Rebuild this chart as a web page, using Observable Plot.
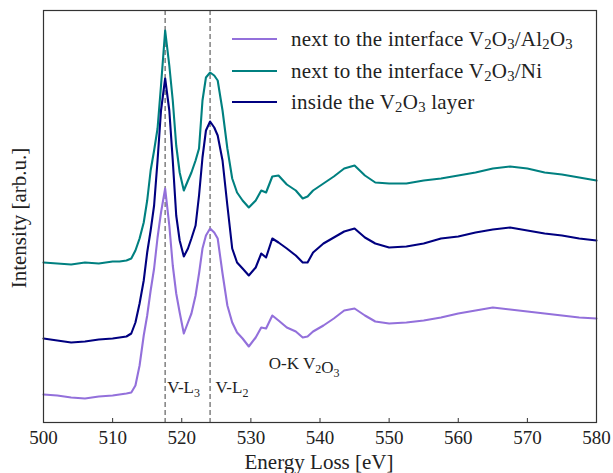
<!DOCTYPE html>
<html><head><meta charset="utf-8">
<script src="https://cdn.jsdelivr.net/npm/d3@7"></script>
<script src="https://cdn.jsdelivr.net/npm/@observablehq/plot@0.6"></script>
<style>
body{margin:0;background:#fff;}
#wrap{position:relative;width:613px;height:473px;font-family:"Liberation Serif",serif;color:#222;}
.t{position:absolute;white-space:nowrap;line-height:1;}
.legline{position:absolute;height:2px;width:45px;left:232px;}
.legtxt{position:absolute;left:291px;font-size:21px;letter-spacing:0.25px;white-space:nowrap;line-height:1;transform:translateY(-50%);}
sub{font-size:0.7em;vertical-align:-0.25em;line-height:0;}
</style></head><body><div id="wrap"></div>
<script>
// Energy loss (eV)
const energy = [500,502,504,506,508,510,511,512,512.7,513.3,513.9,514.5,515.0,515.5,516.0,516.5,517.0,517.6,518.2,518.7,519.2,519.7,520.3,520.9,521.4,522.0,522.5,523.0,523.5,524.1,524.7,525.2,525.9,526.6,527.3,528.0,528.8,529.7,530.7,531.5,532.2,533.1,534.0,535.2,536.5,537.5,538.2,539.0,540.5,542.0,543.5,545.0,546.5,548.0,550.0,552.5,555.0,557.5,560.0,562.5,565.0,567.5,570.0,572.5,575.0,577.5,580.0];
// Intensity (arb. u., curves offset as in the figure)
const nextToAl2O3 = [28,27,25,24,26,27,28,29,30,37,57,87,107,132,154,185,210,234,197,157,129,110,89,100,109,127,149,174,187,194,190,184,149,117,100,90,84,76,85,95,94,107,102,95,91,85,86,91,97,104,112,114,107,101,99,100,102,105,109,112,115,113,111,109,107,105,104];
const nextToNi = [160,159,158,160,159,161,161,162,164,172,184,200,222,252,272,294,337,392,357,322,277,250,232,242,250,262,274,322,345,350,347,342,312,274,244,230,222,215,222,232,230,246,247,238,232,224,226,232,239,246,254,257,247,240,239,239,242,244,247,250,254,256,254,250,248,245,242];
const insideLayer = [84,82,80,81,83,84,85,86,89,100,119,142,170,192,217,262,312,344,312,262,207,182,166,174,184,197,227,265,292,301,295,287,262,217,174,160,154,147,155,169,165,184,180,174,167,160,160,170,179,185,191,194,185,179,175,176,179,184,186,190,193,195,192,189,187,184,182];

const seriesNames = ["next to the interface V2O3/Al2O3","next to the interface V2O3/Ni","inside the V2O3 layer"];
const seriesColors = ["#9370DB","#008080","#000080"];
const seriesValues = [nextToAl2O3, nextToNi, insideLayer];

const xTicks = [500,510,520,530,540,550,560,570,580];
const edgeEnergies = [517.6, 524.1];
const annoText = ["V-L_3","V-L_2","O-K V_2O_3"];
const annoX = [517.9, 524.9, 532.6];
const annoY = [35, 35, 59];

const rows = [];
seriesValues.forEach((vals, k) => vals.forEach((v, i) => rows.push({E: energy[i], I: v, s: seriesNames[k]})));
const anno = annoText.map((t, i) => ({t, x: annoX[i], y: annoY[i]}));

const chart = Plot.plot({
  width: 613, height: 473,
  marginLeft: 43, marginRight: 17, marginTop: 10, marginBottom: 51,
  style: {fontFamily: "Liberation Serif, serif", fontSize: "19px", background: "white", color: "#222"},
  x: {domain: [500, 580], label: null},
  y: {domain: [0, 412], axis: null},
  color: {domain: seriesNames, range: seriesColors},
  marks: [
    Plot.ruleX(edgeEnergies, {stroke: "#808080", strokeWidth: 1.5, strokeDasharray: "5,3"}),
    Plot.line(rows, {x: "E", y: "I", z: "s", stroke: "s", strokeWidth: 2.1}),
    Plot.axisX({ticks: xTicks, tickFormat: d => String(d), tickSize: 0, tickPadding: 8, fontSize: 19, label: null}),
    Plot.ruleX(xTicks, {y1: 0, y2: 4, stroke: "#333", strokeWidth: 1}),
    Plot.text(anno, {x: "x", y: "y", text: "t", textAnchor: "start", fontSize: 17, fill: "#222"}),
    Plot.frame({stroke: "#333", strokeWidth: 1.2})
  ]
});

const wrap = document.getElementById("wrap");
wrap.appendChild(chart);

// subscripts inside SVG texts
d3.select(chart).selectAll("text").each(function() {
  const el = d3.select(this);
  const s = el.text();
  if (!s.includes("_")) return;
  el.text(null);
  const parts = s.split(/(_\d)/);
  parts.forEach(p => {
    if (!p) return;
    if (p.startsWith("_")) {
      el.append("tspan").attr("font-size", "12px").attr("dy", "4").text(p.slice(1));
      el.append("tspan").attr("dy", "-4").text("");
    } else {
      el.append("tspan").text(p);
    }
  });
});

function html(s){ return s.replace(/(\d)/g, "<sub>$1</sub>"); }
const legY = [39, 71, 102];
seriesNames.forEach((n, i) => {
  const l = document.createElement("div");
  l.className = "legline"; l.style.top = (legY[i]-1) + "px"; l.style.background = seriesColors[i];
  wrap.appendChild(l);
  const t = document.createElement("div");
  t.className = "legtxt"; t.style.top = legY[i] + "px"; t.innerHTML = html(n);
  wrap.appendChild(t);
});
const xl = document.createElement("div");
xl.className = "t"; xl.textContent = "Energy Loss [eV]";
xl.style.fontSize = "21px"; xl.style.left = "319px"; xl.style.top = "462px"; xl.style.transform = "translate(-50%,-50%)";
wrap.appendChild(xl);
const yl = document.createElement("div");
yl.className = "t"; yl.textContent = "Intensity [arb.u.]";
yl.style.fontSize = "21px"; yl.style.left = "19px"; yl.style.top = "218px"; yl.style.transform = "translate(-50%,-50%) rotate(-90deg)";
wrap.appendChild(yl);
</script>
</body></html>
